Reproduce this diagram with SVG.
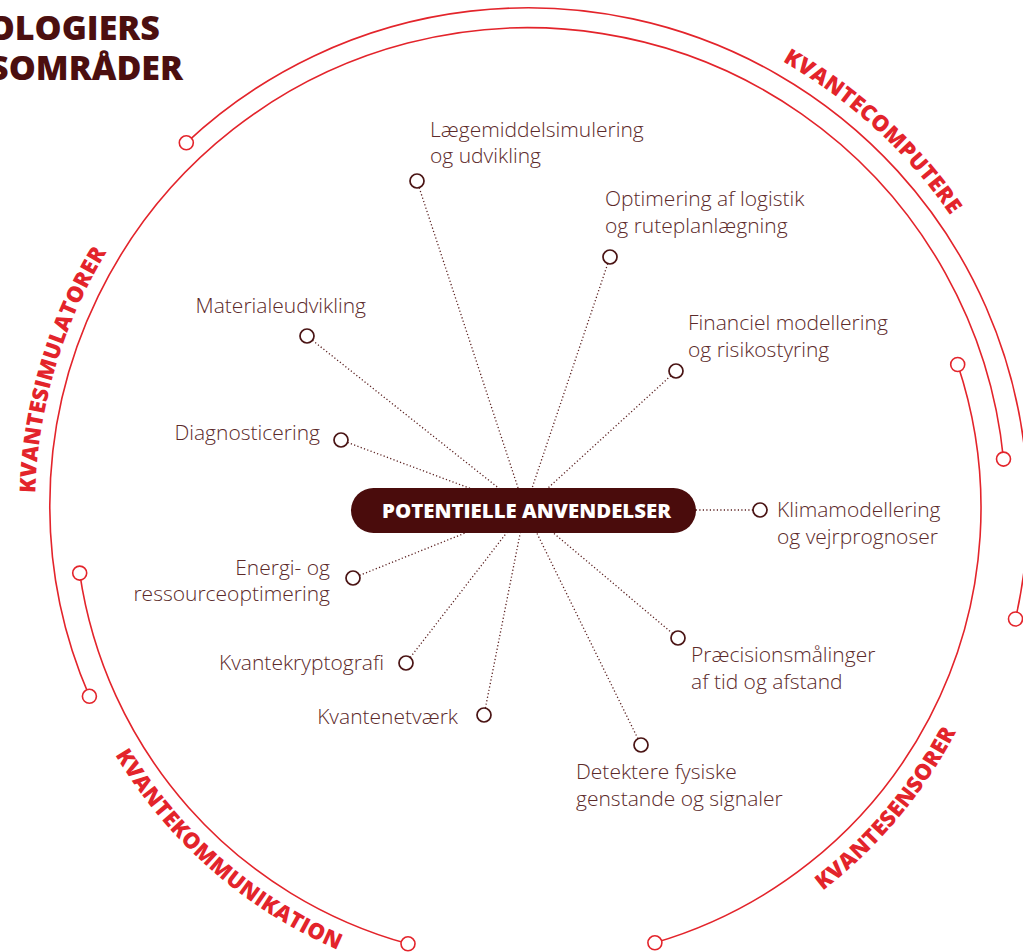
<svg xmlns="http://www.w3.org/2000/svg" width="1023" height="952" viewBox="0 0 1023 952">
<defs>
<style>
.arc{fill:none;stroke:#e3242b;stroke-width:1.6}
.end{fill:#fff;stroke:#e3242b;stroke-width:1.6}
.dot{fill:none;stroke:#5a1f1f;stroke-width:1.3;stroke-dasharray:1.2 2.3}
.mk{fill:#fff;stroke:#4a1414;stroke-width:1.7}
.lbl{font-family:"Open Sans","Noto Sans",sans-serif;font-weight:300;font-size:21px;fill:#5c2a2a}
.cat{font-family:"Open Sans","Noto Sans",sans-serif;font-weight:800;font-size:22px;fill:#e3242b;letter-spacing:0.3px}
.ttl{font-family:"Open Sans","Noto Sans",sans-serif;font-weight:800;font-size:34px;fill:#4b0f0f}
</style>
<path id="pComp" d="M 661 11.5 A 514 514 0 0 1 1011 332.2"/>
<path id="pSim" d="M 42.5 593.6 A 493 493 0 0 1 167.4 171.8"/>
<path id="pSens" d="M 693.2 961.9 A 483 483 0 0 0 1003.7 591.9"/>
<path id="pKom" d="M 76 672.5 A 481 481 0 0 0 424.7 977.8"/>
</defs>
<rect width="1023" height="952" fill="#fff"/>

<g id="title">
<text class="ttl" x="160" y="40" text-anchor="end">OLOGIERS</text>
<text class="ttl" x="183" y="80" text-anchor="end">SOMRÅDER</text>
</g>

<g id="arcs">
<path class="arc" d="M 186.3 142.8 A 500 500 0 0 1 1015.5 619"/>
<path class="arc" d="M 1003.5 459.1 A 478 478 0 1 0 89.4 696.3"/>
<path class="arc" d="M 957.7 364.5 A 453 453 0 0 1 654.9 942.8"/>
<path class="arc" d="M 79.7 573.1 A 452 452 0 0 0 408 943.8"/>
<circle class="end" cx="186.3" cy="142.8" r="7"/>
<circle class="end" cx="1015.5" cy="619" r="7"/>
<circle class="end" cx="1003.5" cy="459.1" r="7"/>
<circle class="end" cx="89.4" cy="696.3" r="7"/>
<circle class="end" cx="957.7" cy="364.5" r="7"/>
<circle class="end" cx="654.9" cy="942.8" r="7"/>
<circle class="end" cx="79.7" cy="573.1" r="7"/>
<circle class="end" cx="408" cy="943.8" r="7"/>
</g>

<g id="categories">
<text class="cat"><textPath href="#pComp" startOffset="50%" text-anchor="middle">KVANTECOMPUTERE</textPath></text>
<text class="cat"><textPath href="#pSim" startOffset="50%" text-anchor="middle">KVANTESIMULATORER</textPath></text>
<text class="cat"><textPath href="#pSens" startOffset="50%" text-anchor="middle">KVANTESENSORER</textPath></text>
<text class="cat"><textPath href="#pKom" startOffset="50%" text-anchor="middle">KVANTEKOMMUNIKATION</textPath></text>
</g>

<g id="connectors">
<line class="dot" x1="417" y1="181" x2="525" y2="509"/>
<line class="dot" x1="610" y1="257" x2="525" y2="509"/>
<line class="dot" x1="307" y1="336" x2="525" y2="509"/>
<line class="dot" x1="676" y1="371" x2="525" y2="509"/>
<line class="dot" x1="341" y1="440" x2="525" y2="509"/>
<line class="dot" x1="760" y1="510" x2="525" y2="510"/>
<line class="dot" x1="353" y1="578" x2="525" y2="509"/>
<line class="dot" x1="678" y1="638" x2="525" y2="509"/>
<line class="dot" x1="406" y1="663" x2="525" y2="509"/>
<line class="dot" x1="484" y1="715" x2="525" y2="509"/>
<line class="dot" x1="641" y1="745" x2="525" y2="509"/>
</g>

<g id="center">
<rect x="351" y="488" width="345" height="45" rx="22.5" fill="#4a0c0c"/>
<text x="382" y="517.5" textLength="289" lengthAdjust="spacingAndGlyphs" style="font-family:'Open Sans','Noto Sans',sans-serif;font-weight:800;font-size:20px;fill:#fff">POTENTIELLE ANVENDELSER</text>
</g>

<g id="n-laegemiddel"><circle class="mk" cx="417" cy="181" r="7"/><text class="lbl" x="430" y="137">Lægemiddelsimulering</text><text class="lbl" x="430" y="163">og udvikling</text></g>
<g id="n-optimering"><circle class="mk" cx="610" cy="257" r="7"/><text class="lbl" x="605" y="206">Optimering af logistik</text><text class="lbl" x="605" y="233">og ruteplanlægning</text></g>
<g id="n-materiale"><circle class="mk" cx="307" cy="336" r="7"/><text class="lbl" x="366" y="313" text-anchor="end">Materialeudvikling</text></g>
<g id="n-financiel"><circle class="mk" cx="676" cy="371" r="7"/><text class="lbl" x="688" y="330">Financiel modellering</text><text class="lbl" x="688" y="357">og risikostyring</text></g>
<g id="n-diagnosticering"><circle class="mk" cx="341" cy="440" r="7"/><text class="lbl" x="320" y="440" text-anchor="end">Diagnosticering</text></g>
<g id="n-klima"><circle class="mk" cx="760" cy="510" r="7"/><text class="lbl" x="777" y="517">Klimamodellering</text><text class="lbl" x="777" y="544">og vejrprognoser</text></g>
<g id="n-energi"><circle class="mk" cx="353" cy="578" r="7"/><text class="lbl" x="330" y="575" text-anchor="end">Energi- og</text><text class="lbl" x="330" y="601" text-anchor="end">ressourceoptimering</text></g>
<g id="n-praecision"><circle class="mk" cx="678" cy="638" r="7"/><text class="lbl" x="691" y="662">Præcisionsmålinger</text><text class="lbl" x="691" y="689">af tid og afstand</text></g>
<g id="n-kryptografi"><circle class="mk" cx="406" cy="663" r="7"/><text class="lbl" x="384" y="670" text-anchor="end">Kvantekryptografi</text></g>
<g id="n-netvaerk"><circle class="mk" cx="484" cy="715" r="7"/><text class="lbl" x="458" y="724" text-anchor="end">Kvantenetværk</text></g>
<g id="n-detektere"><circle class="mk" cx="641" cy="745" r="7"/><text class="lbl" x="576" y="779">Detektere fysiske</text><text class="lbl" x="576" y="806">genstande og signaler</text></g>
</svg>
